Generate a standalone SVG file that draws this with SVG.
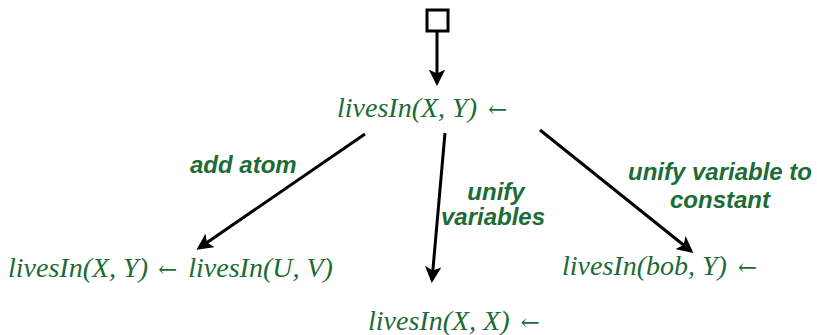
<svg xmlns="http://www.w3.org/2000/svg" width="817" height="335" viewBox="0 0 817 335">
<defs>
<style>
.m{font-family:"Liberation Serif","Times New Roman",serif;font-style:italic;font-size:28px;fill:#1c6b38}
.a{font-family:"DejaVu Serif",serif;font-style:normal;font-size:23px}
.l{font-family:"Liberation Sans",Arial,sans-serif;font-style:italic;font-weight:bold;font-size:24px;fill:#1c6b38}
.c{stroke:#000;stroke-width:3;fill:none;marker-end:url(#ah)}
</style>
<marker id="ah" markerWidth="5.5" markerHeight="5.5" refX="4.5" refY="2.75" orient="auto" markerUnits="strokeWidth"><path d="M0,0 L5.5,2.75 L0,5.5 L1.3,2.75 Z" fill="#000"/></marker>
</defs>
<rect width="817" height="335" fill="#fff"/>
<g id="start"><rect x="427" y="10" width="21" height="21" fill="#fff" stroke="#000" stroke-width="3"/></g>
<g id="connectors">
<line class="c" x1="437" y1="32" x2="437" y2="83"/>
<line class="c" x1="365" y1="134" x2="199" y2="248"/>
<line class="c" x1="445" y1="133" x2="432" y2="280"/>
<line class="c" x1="540" y1="130" x2="691" y2="251"/>
</g>
<g id="root"><text class="m" x="337" y="117">livesIn(X, Y) <tspan class="a" dx="4">←</tspan></text></g>
<g id="addatom"><text class="m" x="8" y="277">livesIn(X, Y) <tspan class="a" dx="3">←</tspan><tspan dx="4"> livesIn(U, V)</tspan></text></g>
<g id="unifyvars"><text class="m" x="368" y="330">livesIn(X, X) <tspan class="a" dx="4">←</tspan></text></g>
<g id="unifyconst"><text class="m" x="562" y="275">livesIn(bob, Y) <tspan class="a" dx="4">←</tspan></text></g>
<g id="labels">
<text class="l" x="190" y="173">add atom</text>
<text class="l" x="496" y="200" text-anchor="middle">unify</text>
<text class="l" x="493" y="225" text-anchor="middle">variables</text>
<text class="l" x="720" y="180" text-anchor="middle">unify variable to</text>
<text class="l" x="720" y="208" text-anchor="middle">constant</text>
</g>
</svg>
